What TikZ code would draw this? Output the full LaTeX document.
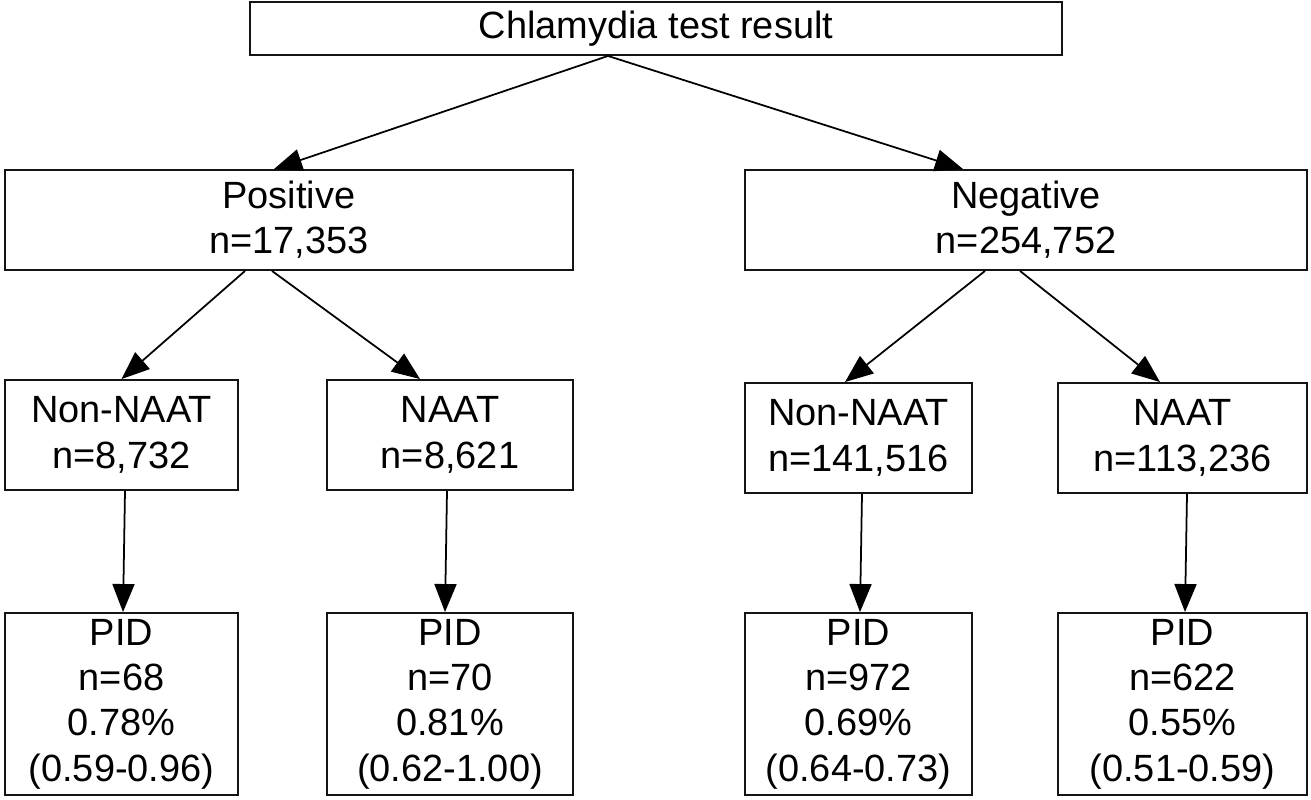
\documentclass[tikz,border=0pt]{standalone}
\usepackage{fontspec}
\setmainfont{Liberation Sans}
\usepackage{xcolor}
\definecolor{flowline}{RGB}{20,20,20}
\usepackage{tikz}
\usetikzlibrary{arrows.meta}
\tikzset{
  flow box/.style={draw=flowline, line width=1.1pt, align=center, inner sep=0pt, font=\fontsize{21.6pt}{25.8pt}\selectfont},
  flow edge/.style={-{Triangle[length=0.56cm, width=0.44cm]}, line width=1pt, black},
}
\begin{document}
\begin{tikzpicture}[x=0.02cm, y=-0.02cm]
  \useasboundingbox (0,0) rectangle (1311,800);
  \node[flow box, minimum width=16.24cm, minimum height=1.06cm] (test) at (656,28.5) {Chlamydia test result};
  \node[flow box, minimum width=11.36cm, minimum height=2.0cm] (pos) at (289,220) {Positive\\n=17,353};
  \node[flow box, minimum width=11.24cm, minimum height=2.0cm] (neg) at (1026,220) {Negative\\n=254,752};
  \node[flow box, minimum width=4.66cm, minimum height=2.2cm] (posnon) at (121.5,435) {Non-NAAT\\n=8,732};
  \node[flow box, minimum width=4.92cm, minimum height=2.2cm] (posnaat) at (450,435) {NAAT\\n=8,621};
  \node[flow box, minimum width=4.54cm, minimum height=2.2cm] (negnon) at (858.5,438) {Non-NAAT\\n=141,516};
  \node[flow box, minimum width=4.98cm, minimum height=2.2cm] (negnaat) at (1182.5,438) {NAAT\\n=113,236};
  \node[flow box, minimum width=4.66cm, minimum height=3.64cm] (pidposnon) at (121.5,704) {PID\\n=68\\0.78\%\\(0.59-0.96)};
  \node[flow box, minimum width=4.92cm, minimum height=3.64cm] (pidposnaat) at (450,704) {PID\\n=70\\0.81\%\\(0.62-1.00)};
  \node[flow box, minimum width=4.54cm, minimum height=3.64cm] (pidnegnon) at (858.5,704) {PID\\n=972\\0.69\%\\(0.64-0.73)};
  \node[flow box, minimum width=4.98cm, minimum height=3.64cm] (pidnegnaat) at (1182.5,704) {PID\\n=622\\0.55\%\\(0.51-0.59)};
  \draw[flow edge] ([xshift=-0.96cm]test.south) -- ([xshift=-0.3cm]pos.north);
  \draw[flow edge] ([xshift=-0.96cm]test.south) -- ([xshift=-1.26cm]neg.north);
  \draw[flow edge] ([xshift=-0.88cm]pos.south) -- (posnon.north);
  \draw[flow edge] ([xshift=-0.34cm]pos.south) -- ([xshift=-0.6cm]posnaat.north);
  \draw[flow edge] ([xshift=-0.82cm]neg.south) -- ([xshift=-0.27cm]negnon.north);
  \draw[flow edge] ([xshift=-0.12cm]neg.south) -- ([xshift=-0.45cm]negnaat.north);
  \draw[flow edge] ([xshift=0.07cm]posnon.south) -- ([xshift=0.03cm]pidposnon.north);
  \draw[flow edge] ([xshift=-0.06cm]posnaat.south) -- ([xshift=-0.1cm]pidposnaat.north);
  \draw[flow edge] ([xshift=0.07cm]negnon.south) -- ([xshift=0.03cm]pidnegnon.north);
  \draw[flow edge] ([xshift=0.09cm]negnaat.south) -- ([xshift=0.05cm]pidnegnaat.north);
\end{tikzpicture}
\end{document}
